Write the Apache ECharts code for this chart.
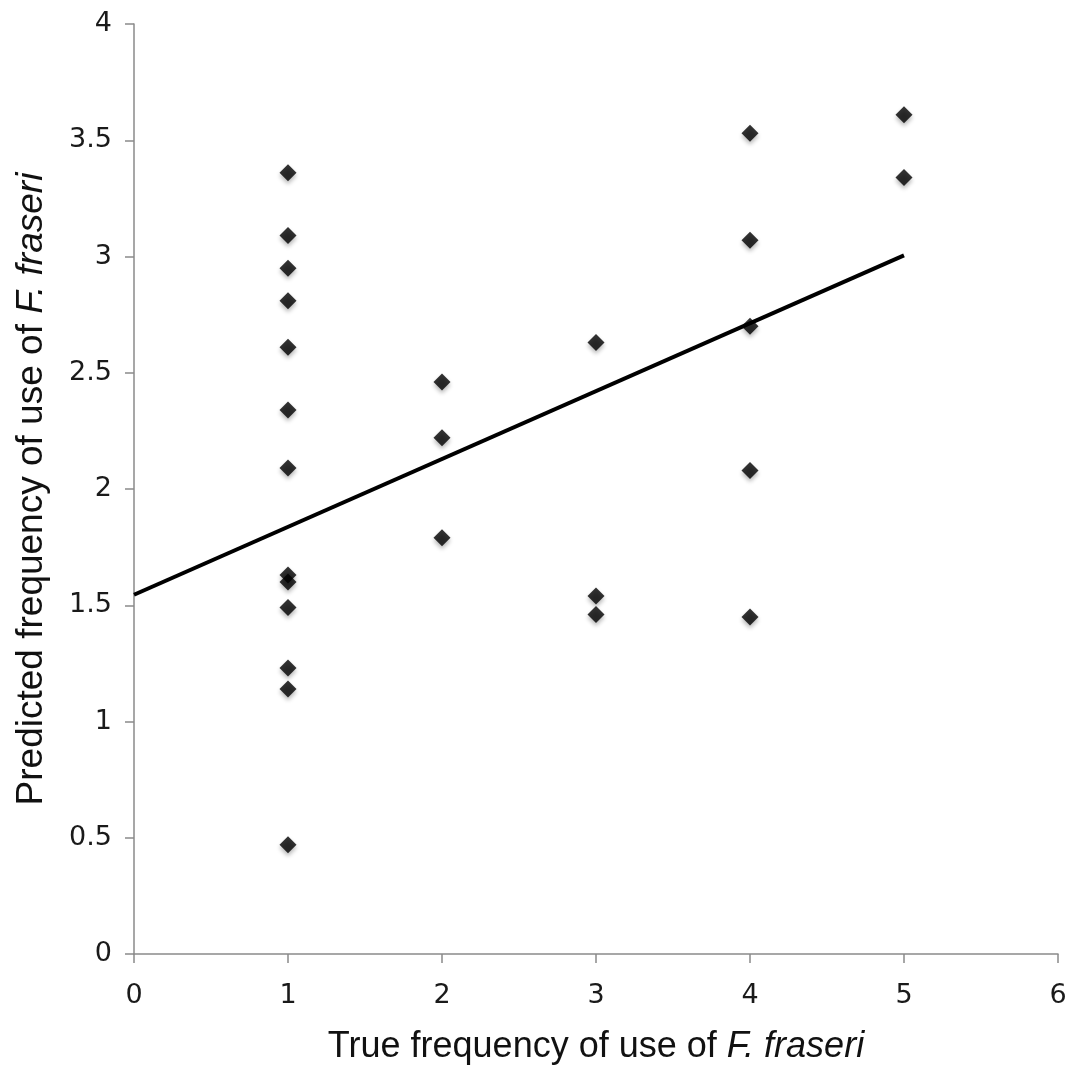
<!DOCTYPE html>
<html>
<head>
<meta charset="utf-8">
<script src="https://cdn.jsdelivr.net/npm/echarts@6/dist/echarts.min.js"></script>
<style>
html,body{margin:0;padding:0;background:#fff;}
#chart{width:1074px;height:1070px;}
</style>
</head>
<body>
<div id="chart"></div>
<script>
// Observed points: true frequency (x) vs predicted frequency (y)
const trueFreq = [1,1,1,1,1,1,1,1,1,1,1,1,1, 2,2,2, 3,3,3, 4,4,4,4,4, 5,5];
const predFreq = [3.36,3.09,2.95,2.81,2.61,2.34,2.09,1.63,1.60,1.49,1.23,1.14,0.47,
                  2.46,2.22,1.79,
                  2.63,1.54,1.46,
                  3.53,3.07,2.70,2.08,1.45,
                  3.61,3.34];
// Trend line end points
const trendX = [0, 5];
const trendY = [1.545, 3.005];

const xTicks = {min: 0, max: 6, interval: 1};
const yTicks = {min: 0, max: 4, interval: 0.5};

const points = trueFreq.map((x, i) => [x, predFreq[i]]);
const trend = trendX.map((x, i) => [x, trendY[i]]);

const chart = echarts.init(document.getElementById('chart'), null, {renderer: 'canvas'});
const axisCol = '#8a8a8a';
const labelFont = 'DejaVu Sans';
const titleFont = 'Liberation Sans';

chart.setOption({
  animation: false,
  backgroundColor: '#ffffff',
  grid: {left: 134, right: 16, top: 24, bottom: 115, containLabel: false},
  xAxis: {
    type: 'value',
    min: xTicks.min, max: xTicks.max, interval: xTicks.interval,
    splitLine: {show: false},
    axisLine: {show: true, onZero: false, lineStyle: {color: axisCol, width: 1.5}},
    axisTick: {show: true, inside: false, length: 9, lineStyle: {color: axisCol, width: 1.5}},
    axisLabel: {color: '#1a1a1a', fontFamily: labelFont, fontSize: 27, margin: 28},
    name: '{n|True frequency of use of }{i|F. fraseri}',
    nameLocation: 'middle',
    nameGap: 75,
    nameTextStyle: {
      rich: {
        n: {fontFamily: titleFont, fontSize: 36, color: '#111'},
        i: {fontFamily: titleFont, fontSize: 36, fontStyle: 'italic', color: '#111'}
      }
    }
  },
  yAxis: {
    type: 'value',
    min: yTicks.min, max: yTicks.max, interval: yTicks.interval,
    splitLine: {show: false},
    axisLine: {show: true, onZero: false, lineStyle: {color: axisCol, width: 1.5}},
    axisTick: {show: true, inside: false, length: 9, lineStyle: {color: axisCol, width: 1.5}},
    axisLabel: {color: '#1a1a1a', fontFamily: labelFont, fontSize: 27, margin: 22},
    name: '{n|Predicted frequency of use of }{i|F. fraseri}',
    nameLocation: 'middle',
    nameGap: 84,
    nameTextStyle: {
      rich: {
        n: {fontFamily: titleFont, fontSize: 37, color: '#111'},
        i: {fontFamily: titleFont, fontSize: 37, fontStyle: 'italic', color: '#111'}
      }
    }
  },
  series: [
    {
      type: 'line',
      data: trend,
      symbol: 'none',
      lineStyle: {color: '#000', width: 4},
      z: 2
    },
    {
      type: 'scatter',
      data: points,
      symbol: 'diamond',
      symbolSize: [17, 17],
      itemStyle: {
        color: '#000',
        shadowColor: 'rgba(0,0,0,0.35)',
        shadowBlur: 4,
        shadowOffsetY: 3
      },
      z: 3
    }
  ]
});
</script>
</body>
</html>
